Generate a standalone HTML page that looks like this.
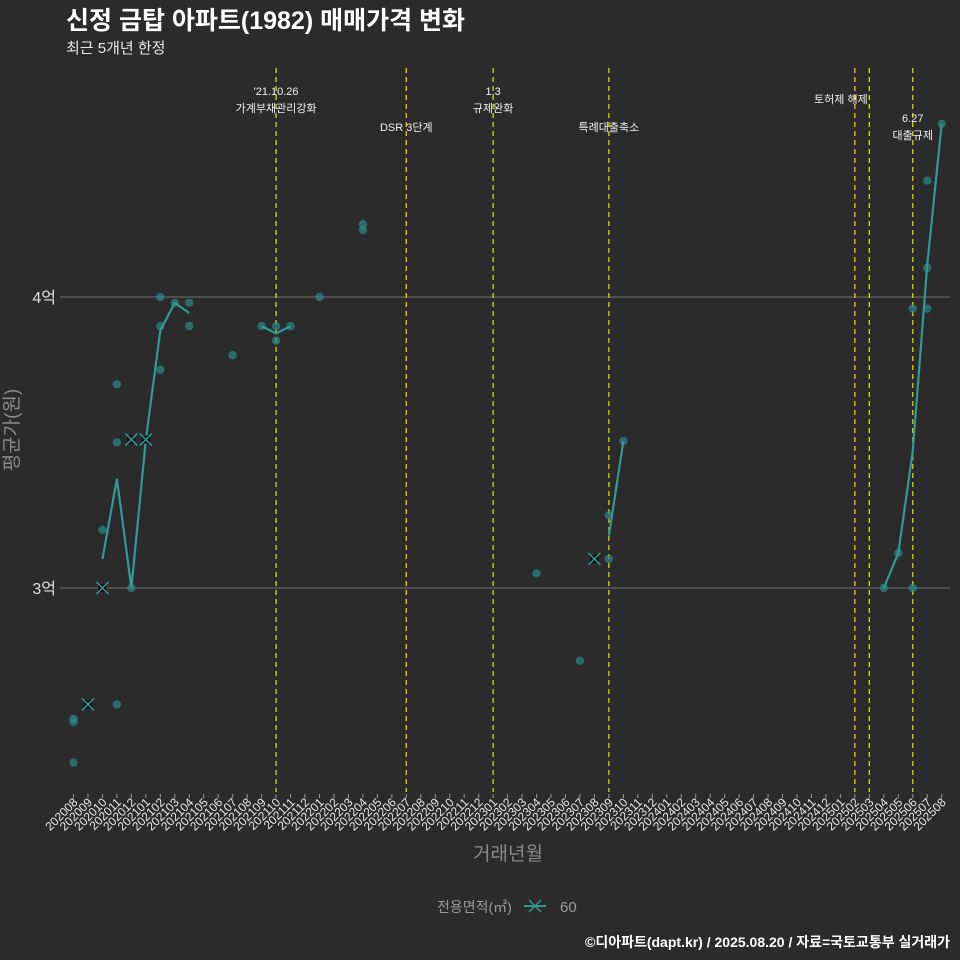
<!DOCTYPE html>
<html><head><meta charset="utf-8">
<style>
html,body{margin:0;padding:0;background:#2b2b2b;}
svg{display:block;font-family:"Liberation Sans","Noto Sans CJK KR",sans-serif;}
</style></head>
<body>
<svg id="chart" width="960" height="960" viewBox="0 0 960 960">
<rect width="960" height="960" fill="#2b2b2b"/>
<text x="66" y="29" fill="#ffffff" font-size="25" font-weight="bold">신정 금탑 아파트(1982) 매매가격 변화</text>
<text x="66" y="53" fill="#e8e8e8" font-size="15">최근 5개년 한정</text>
<g id="grid"></g><g id="vlines"></g><g id="marks"></g><g id="xticks"></g>
<text x="18" y="430" fill="#8a8a8a" font-size="19" text-anchor="middle" transform="rotate(-90 18 430)">평균가(원)</text>
<text x="508" y="860" fill="#8a8a8a" font-size="19" text-anchor="middle">거래년월</text>
<g>
<text x="437" y="912" fill="#9a9a9a" font-size="14">전용면적(㎡)</text>
<g>
<line x1="524" y1="906" x2="546" y2="906" stroke="#2f9a96" stroke-width="2"/>
<path d="M529 900 L541 912 M541 900 L529 912" stroke="#2f9a96" stroke-width="1.5"/>
<text x="560" y="912" fill="#9a9a9a" font-size="15">60</text></g>
</g>
<text x="950" y="947" fill="#ffffff" font-size="14" font-weight="bold" text-anchor="end">©디아파트(dapt.kr) / 2025.08.20 / 자료=국토교통부 실거래가</text>
</svg>
<script>
const months=[];for(let y=2020,m=8;months.length<61;){months.push(y+String(m).padStart(2,'0'));m++;if(m>12){m=1;y++;}}
const yTicks=[3,4];
const yTickLabels=['3억','4억'];
const dotMonths=['202008','202008','202008','202010','202011','202011','202011','202012','202102','202102','202102','202103','202104','202104','202107','202109','202110','202110','202111','202201','202204','202204','202304','202307','202309','202309','202310','202504','202505','202506','202506','202507','202507','202507','202508'];
const dotValues=[2.55,2.54,2.40,3.20,3.70,3.50,2.60,3.00,4.00,3.90,3.75,3.98,3.98,3.90,3.80,3.90,3.90,3.85,3.90,4.00,4.25,4.23,3.05,2.75,3.25,3.10,3.505,3.00,3.12,3.96,3.00,4.40,4.10,3.96,4.595];
const crossMonths=['202009','202010','202012','202101','202308'];
const crossValues=[2.60,3.00,3.51,3.51,3.10];
const lineSegs=[
 {months:['202010','202011','202012','202101','202102','202103','202104'],values:[3.10,3.375,3.00,3.51,3.885,3.98,3.945]},
 {months:['202109','202110','202111'],values:[3.90,3.875,3.90]},
 {months:['202309','202310'],values:[3.18,3.505]},
 {months:['202504','202505','202506','202507','202508'],values:[3.00,3.12,3.47,4.11,4.595]}
];
const eventMonths=['202110','202207','202301','202309','202502','202503','202506'];
const eventLabels=[["'21.10.26","가계부채관리강화"],["","DSR 3단계"],["1.3","규제완화"],["","특례대출축소"],["토허제 해제"],[""],["6.27","대출규제"]];
const NS='http://www.w3.org/2000/svg';
const X=m=>73.5+months.indexOf(m)*14.47;
const Y=v=>297+(4-v)*291;
function mk(tag,attrs,parent){const e=document.createElementNS(NS,tag);for(const k in attrs)e.setAttribute(k,attrs[k]);document.getElementById(parent).appendChild(e);return e;}
yTicks.forEach((t,i)=>{
 const l=mk('line',{x1:60,x2:950,y1:Y(t),y2:Y(t),stroke:'#5a5a5a','stroke-width':1.5},'grid');
 
 
 const tx=mk('text',{x:56,y:Y(t)+6,fill:'#e0e0e0','font-size':16,'text-anchor':'end'},'grid');tx.textContent=yTickLabels[i];
 
 
});
eventMonths.forEach((m,i)=>{
 const l=mk('line',{x1:X(m),x2:X(m),y1:68,y2:792,stroke:'#d8d800','stroke-width':1.3,'stroke-dasharray':'5,4'},'vlines');
 
 
 const lab=eventLabels[i];
 let x=X(m),ys;
 if(lab.length===1){x=X(m)-14;ys=[103];} else if(lab[0]===''){ys=[0,131];} else if(i===6){x=X(m)+0;ys=[122,139];} else ys=[95,112];
 lab.forEach((s,j)=>{if(!s)return;const t=mk('text',{x:x,y:ys[j],fill:'#f0f0f0','font-size':11,'text-anchor':'middle'},'vlines');t.textContent=s;
 
 });
});
months.forEach(m=>{
 const x=X(m);
 const tk=mk('line',{x1:x,x2:x,y1:794,y2:798,stroke:'#999','stroke-width':1},'xticks');
 
 
 const t=mk('text',{x:x+5,y:803,fill:'#e8e8e8','font-size':12,'text-anchor':'end',transform:`rotate(-45 ${x+5} 803)`},'xticks');t.textContent=m;
 
 
});
dotMonths.forEach((m,i)=>{
 const c=mk('circle',{cx:X(m),cy:Y(dotValues[i]),r:4.2,fill:'#2a8c86','fill-opacity':0.7},'marks');
 
 
});
lineSegs.forEach(s=>{
 const p=mk('polyline',{points:s.months.map((m,i)=>X(m)+','+Y(s.values[i])).join(' '),fill:'none',stroke:'#2f9a96','stroke-width':2.2},'marks');
 
 
});
crossMonths.forEach((m,i)=>{
 const x=X(m),y=Y(crossValues[i]);
 const r=mk('rect',{x:x-4,y:y-4,width:8,height:8,fill:'#0a0a0a'},'marks');
 
 
 const p=mk('path',{d:`M${x-6} ${y-6}L${x+6} ${y+6}M${x+6} ${y-6}L${x-6} ${y+6}`,stroke:'#2f9a96','stroke-width':1.5},'marks');
 
 
});
</script>
</body></html>
